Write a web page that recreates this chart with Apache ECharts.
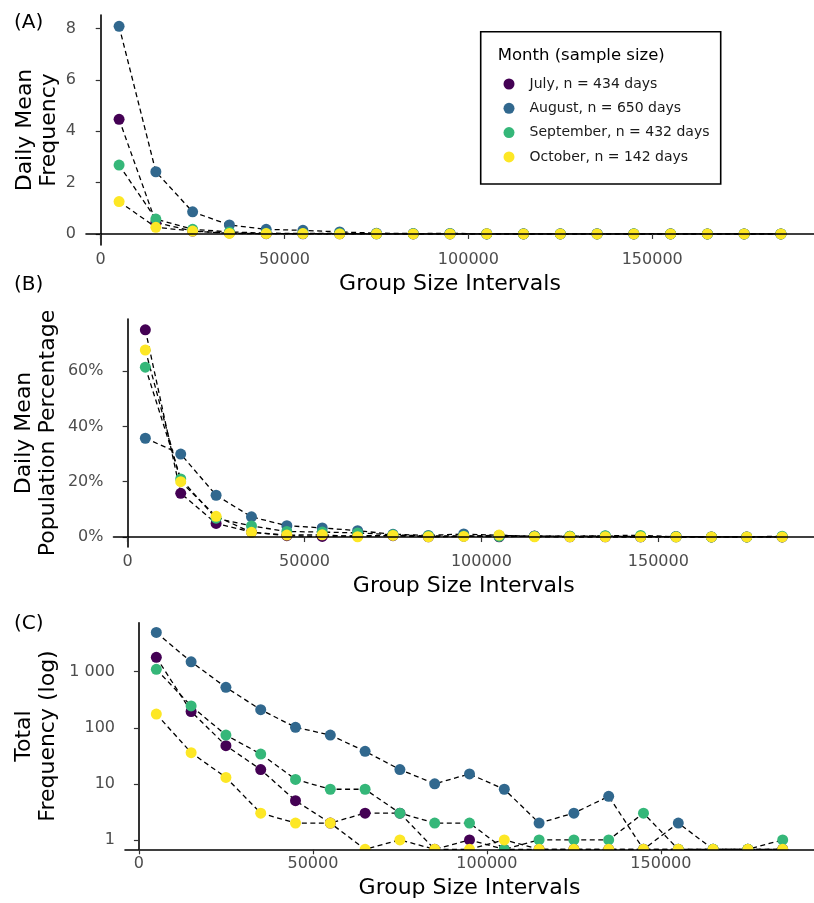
<!DOCTYPE html>
<html>
<head>
<meta charset="utf-8">
<script src="https://cdn.jsdelivr.net/npm/echarts@6/dist/echarts.min.js"></script>
<style>html,body{margin:0;padding:0;background:#fff}#c{width:814px;height:903px}</style>
</head>
<body>
<div id="c"></div>
<script>
// ---------- data ----------
const intervals = [5000, 15000, 25000, 35000, 45000, 55000, 65000, 75000, 85000, 95000,
  105000, 115000, 125000, 135000, 145000, 155000, 165000, 175000, 185000];
const months = ['July, n = 434 days', 'August, n = 650 days', 'September, n = 432 days', 'October, n = 142 days'];
const monthColors = ['#440154', '#31688E', '#35B779', '#FDE725'];

// (A) daily mean frequency
const julyA = [4.46, 0.45, 0.11, 0.04, 0.012, 0.005, 0.007, 0.007, 0, 0.002, 0, 0, 0, 0, 0, 0, 0, 0, 0];
const augA  = [8.08, 2.42, 0.86, 0.35, 0.18, 0.14, 0.08, 0.03, 0.015, 0.02, 0.012, 0.003, 0.005, 0.009, 0, 0.003, 0, 0, 0];
const sepA  = [2.68, 0.58, 0.18, 0.08, 0.03, 0.02, 0.02, 0.007, 0.005, 0.005, 0, 0.002, 0.002, 0.002, 0.007, 0, 0, 0, 0.002];
const octA  = [1.26, 0.26, 0.11, 0.02, 0.014, 0.014, 0, 0.007, 0, 0, 0.007, 0, 0, 0, 0, 0, 0, 0, 0];

// (B) daily mean population percentage
const julyB = [74.9, 15.8, 4.9, 1.8, 0.5, 0.2, 0.5, 0.5, 0.1, 0.3, 0.1, 0.4, 0.1, 0.1, 0.1, 0.1, 0.05, 0.05, 0.05];
const augB  = [35.7, 30.0, 15.1, 7.3, 4.1, 3.3, 2.3, 1.0, 0.6, 1.1, 0.6, 0.3, 0.3, 0.4, 0.1, 0.2, 0.05, 0.05, 0.05];
const sepB  = [61.4, 21.0, 6.8, 4.0, 2.0, 1.8, 1.5, 0.8, 0.4, 0.4, 0.2, 0.3, 0.3, 0.5, 0.6, 0.1, 0.05, 0.05, 0.3];
const octB  = [67.6, 20.0, 7.5, 1.7, 0.7, 0.8, 0.1, 0.6, 0.1, 0.2, 0.7, 0.1, 0.1, 0.1, 0.1, 0.05, 0.05, 0.05, 0.05];

// (C) total frequency (log); 0 = no groups (drawn at the panel floor)
const julyC = [1800, 195, 48, 18, 5, 2, 3, 3, 0, 1, 0, 0, 0, 0, 0, 0, 0, 0, 0];
const augC  = [5000, 1500, 525, 210, 102, 74, 38, 18, 10, 15, 8, 2, 3, 6, 0, 2, 0, 0, 0];
const sepC  = [1100, 245, 74, 34, 12, 8, 8, 3, 2, 2, 0, 1, 1, 1, 3, 0, 0, 0, 1];
const octC  = [175, 36, 13, 3, 2, 2, 0, 1, 0, 0, 1, 0, 0, 0, 0, 0, 0, 0, 0];

const xTicks = [0, 50000, 100000, 150000];
const yTicksA = [0, 2, 4, 6, 8];
const yTicksB = [0, 20, 40, 60];
const yTicksC = [1, 10, 100, 1000];

// ---------- chart ----------
const FONT = 'DejaVu Sans';
const LOG_FLOOR = 0.68;
const panels = [
  {data: [julyA, augA, sepA, octA], log: false},
  {data: [julyB, augB, sepB, octB], log: false},
  {data: [julyC, augC, sepC, octC], log: true}
];

const grids = [
  {left: 86, top: 15, width: 735, height: 230},
  {left: 113.5, top: 319, width: 707.5, height: 228},
  {left: 125, top: 622.7, width: 696, height: 226.6}
];

function xAxis(i) {
  return {
    gridIndex: i, type: 'value', min: -4000, max: 194000, z: 10,
    name: 'Group Size Intervals', nameLocation: 'middle', nameGap: 28, nameMoveOverlap: false,
    nameTextStyle: {fontFamily: FONT, fontSize: 22, color: '#000'},
    splitLine: {show: false},
    axisLine: {lineStyle: {color: '#000', width: 1.6}},
    axisTick: {customValues: xTicks, length: 5, lineStyle: {color: '#333', width: 1.2}},
    axisLabel: {customValues: xTicks, fontFamily: FONT, fontSize: 16, color: '#4D4D4D', margin: 7,
      formatter: v => String(v)}
  };
}
function yAxisBase(i, name, gap, ticks, fmt) {
  return {
    gridIndex: i, name: name, nameLocation: 'middle', nameGap: gap, nameMoveOverlap: false,
    nameTextStyle: {fontFamily: FONT, fontSize: 22, color: '#000', lineHeight: 24},
    splitLine: {show: false},
    axisLine: {show: true, lineStyle: {color: '#000', width: 1.6}},
    axisTick: {show: true, customValues: ticks, length: 5, lineStyle: {color: '#333', width: 1.2}},
    axisLabel: {customValues: ticks, fontFamily: FONT, fontSize: 16, color: '#4D4D4D', margin: 10, formatter: fmt}
  };
}
const yAxes = [
  Object.assign(yAxisBase(0, 'Daily Mean\nFrequency', 25, yTicksA, v => String(v)), {type: 'value', min: -0.43, max: 8.52}),
  Object.assign(yAxisBase(1, 'Daily Mean\nPopulation Percentage', 53, yTicksB, v => v + '%'), {type: 'value', min: -3.6, max: 78.8}),
  Object.assign(yAxisBase(2, 'Total\nFrequency (log)', 65, yTicksC,
    v => String(Math.round(v)).replace(/\B(?=(\d{3})+(?!\d))/g, ' ')),
    {type: 'log', logBase: 10, min: LOG_FLOOR, max: 7470})
];

const series = [];
panels.forEach((p, i) => {
  const pts = p.data.map(arr => intervals.map((x, k) => [x, p.log && arr[k] <= 0 ? LOG_FLOOR : arr[k]]));
  pts.forEach(d => {
    series.push({
      type: 'line', xAxisIndex: i, yAxisIndex: i, data: d, symbol: 'none', silent: true,
      lineStyle: {color: '#000', width: 1.3, type: [5, 3.5]}, z: 2, animation: false
    });
  });
  pts.forEach((d, j) => {
    series.push({
      type: 'scatter', name: months[j], xAxisIndex: i, yAxisIndex: i, data: d,
      symbolSize: 11, itemStyle: {color: monthColors[j], opacity: 1}, z: 3, animation: false
    });
  });
});

const chart = echarts.init(document.getElementById('c'), null, {renderer: 'canvas'});
chart.setOption({
  backgroundColor: '#fff',
  animation: false,
  grid: grids,
  xAxis: [0, 1, 2].map(xAxis),
  yAxis: yAxes,
  legend: {
    data: months, orient: 'vertical', left: 503.5, top: 77, padding: 0,
    icon: 'circle', itemWidth: 11, itemHeight: 11, itemGap: 10.3,
    textStyle: {fontFamily: FONT, fontSize: 14, color: '#1A1A1A', lineHeight: 14, padding: [0, 0, 0, 10]},
    selectedMode: false
  },
  graphic: [
    {type: 'rect', z: -1, shape: {x: 480.7, y: 31.7, width: 240, height: 152.3},
      style: {fill: '#fff', stroke: '#000', lineWidth: 1.6}},
    {type: 'text', x: 497.7, y: 55.7, style: {text: 'Month (sample size)', font: '16.5px "DejaVu Sans"', fill: '#000', textVerticalAlign: 'middle'}},
    {type: 'text', x: 14, y: 23, style: {text: '(A)', font: '20px "DejaVu Sans"', fill: '#000', textVerticalAlign: 'middle'}},
    {type: 'text', x: 14, y: 285, style: {text: '(B)', font: '20px "DejaVu Sans"', fill: '#000', textVerticalAlign: 'middle'}},
    {type: 'text', x: 14, y: 624, style: {text: '(C)', font: '20px "DejaVu Sans"', fill: '#000', textVerticalAlign: 'middle'}},
    {type: 'rect', z: 5, shape: {x: 124, y: 850.2, width: 700, height: 6}, style: {fill: '#fff'}}
  ],
  series: series
});
</script>
</body>
</html>
